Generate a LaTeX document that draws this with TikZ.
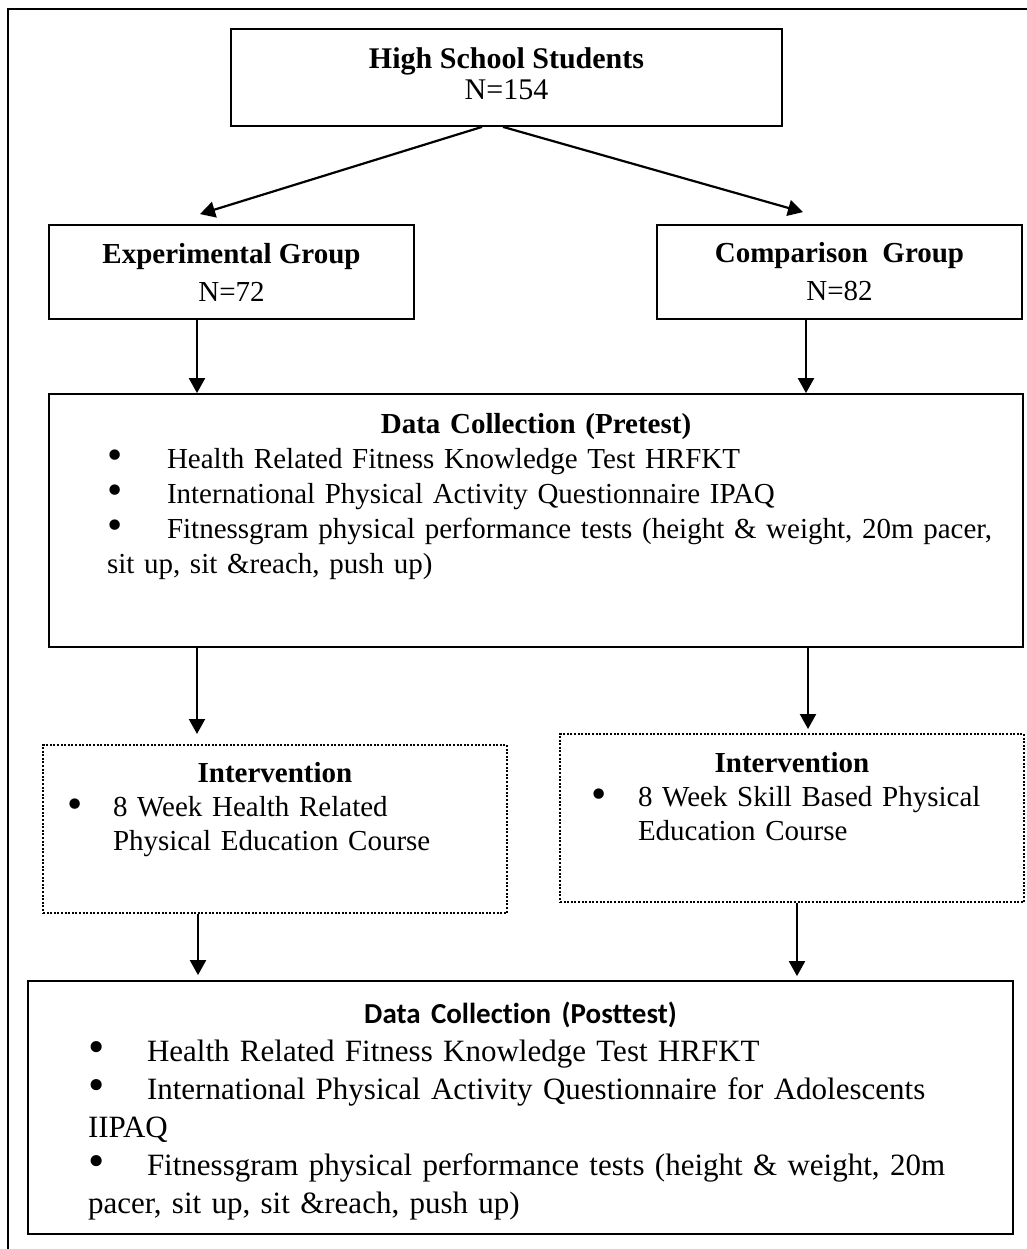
\documentclass[tikz,border=0pt]{standalone}
\usepackage{fontspec}
\setmainfont{Liberation Serif}
\newfontfamily\calibri[Ligatures=NoCommon]{Carlito}
\usetikzlibrary{arrows.meta}
\newcommand{\bul}[1]{\makebox[#1][l]{\raisebox{-0.1ex}{\scalebox{1.5}{\textbullet}}}}
\begin{document}
\begin{tikzpicture}[x=1pt,y=-1pt,
  box/.style={draw,line width=1.8pt,inner sep=0pt},
  dotbox/.style={draw,line width=2pt,dash pattern=on 2pt off 1.6pt,inner sep=0pt},
  arr/.style={line width=2.2pt,-{Triangle[length=15pt,width=16pt]}},
  txt/.style={font=\fontsize{29}{35}\selectfont}]
  \fill[white] (0,0) rectangle (1027,1249);
  \useasboundingbox (0,0) rectangle (1027,1249);
  \draw[line width=1.8pt] (1027,9) -- (8,9) -- (8,1249);
  \node[box,minimum width=551pt,minimum height=97pt,align=center,font=\fontsize{30}{31}\selectfont] (stud) at (506.5,77.5) {\textbf{High School Students}\\N=154\\[-23pt]\mbox{}};
  \node[box,minimum width=365pt,minimum height=94pt,align=center,font=\fontsize{29}{38}\selectfont] (expg) at (231.5,272) {\textbf{Experimental Group}\\N=72};
  \node[box,minimum width=365pt,minimum height=94pt,align=center,font=\fontsize{29}{38}\selectfont] (comp) at (839.5,272) {\textbf{Comparison\ \ Group}\\N=82};
  \node[box,txt,minimum width=974pt,minimum height=253pt,text width=858pt,align=left] (pre) at (536,520.5) {%
    {\centering\bfseries Data Collection (Pretest)\par}
    \bul{60pt}Health Related Fitness Knowledge Test HRFKT\\
    \bul{60pt}International Physical Activity Questionnaire IPAQ\\
    \bul{60pt}\mbox{Fitnessgram physical performance tests (height \& weight, 20m pacer,}\\
    sit up, sit \&reach, push up)\par\rule{0pt}{47pt}};
  \node[dotbox,txt,font=\fontsize{29}{34}\selectfont,minimum width=464pt,minimum height=168pt,text width=416pt,align=left] (intl) at (275,829) {%
    {\centering\bfseries Intervention\par}
    \bul{46pt}8 Week Health Related\\
    \hspace*{46pt}Physical Education Course\par\rule{0pt}{37pt}};
  \node[dotbox,txt,font=\fontsize{29}{34}\selectfont,minimum width=464pt,minimum height=168pt,text width=402pt,align=left] (intr) at (792,818) {%
    {\centering\bfseries Intervention\par}
    \bul{47pt}8 Week Skill Based Physical\\
    \hspace*{47pt}Education Course\par\rule{0pt}{41pt}};
  \node[box,minimum width=985pt,minimum height=253pt,text width=865pt,align=left,font=\fontsize{31}{38}\selectfont] (post) at (520.5,1107.5) {%
    {\centering\calibri\bfseries\fontsize{29}{38}\selectfont\rule{0pt}{28pt}Data Collection (Posttest)\par}
    \bul{59pt}Health Related Fitness Knowledge Test HRFKT\\
    \bul{59pt}\mbox{International Physical Activity Questionnaire for Adolescents}\\
    IIPAQ\\
    \bul{59pt}\mbox{Fitnessgram physical performance tests (height \& weight, 20m}\\
    pacer, sit up, sit \&reach, push up)};
  \draw[arr] ([xshift=-24.5pt]stud.south) -- ([xshift=-31.5pt,yshift=10pt]expg.north);
  \draw[arr] ([xshift=-3.5pt]stud.south) -- ([xshift=-36.5pt,yshift=12pt]comp.north);
  \draw[arr] ([xshift=-34.5pt]expg.south) -- ([xshift=-339pt]pre.north);
  \draw[arr] ([xshift=-33.5pt]comp.south) -- ([xshift=270pt]pre.north);
  \draw[arr] ([xshift=-339pt]pre.south) -- ([xshift=-78pt,yshift=10pt]intl.north);
  \draw[arr] ([xshift=272pt]pre.south) -- ([xshift=16pt,yshift=4pt]intr.north);
  \draw[arr] ([xshift=-77pt]intl.south) -- ([xshift=-322.5pt,yshift=5pt]post.north);
  \draw[arr] ([xshift=5pt]intr.south) -- ([xshift=276.5pt,yshift=4pt]post.north);
\end{tikzpicture}
\end{document}
